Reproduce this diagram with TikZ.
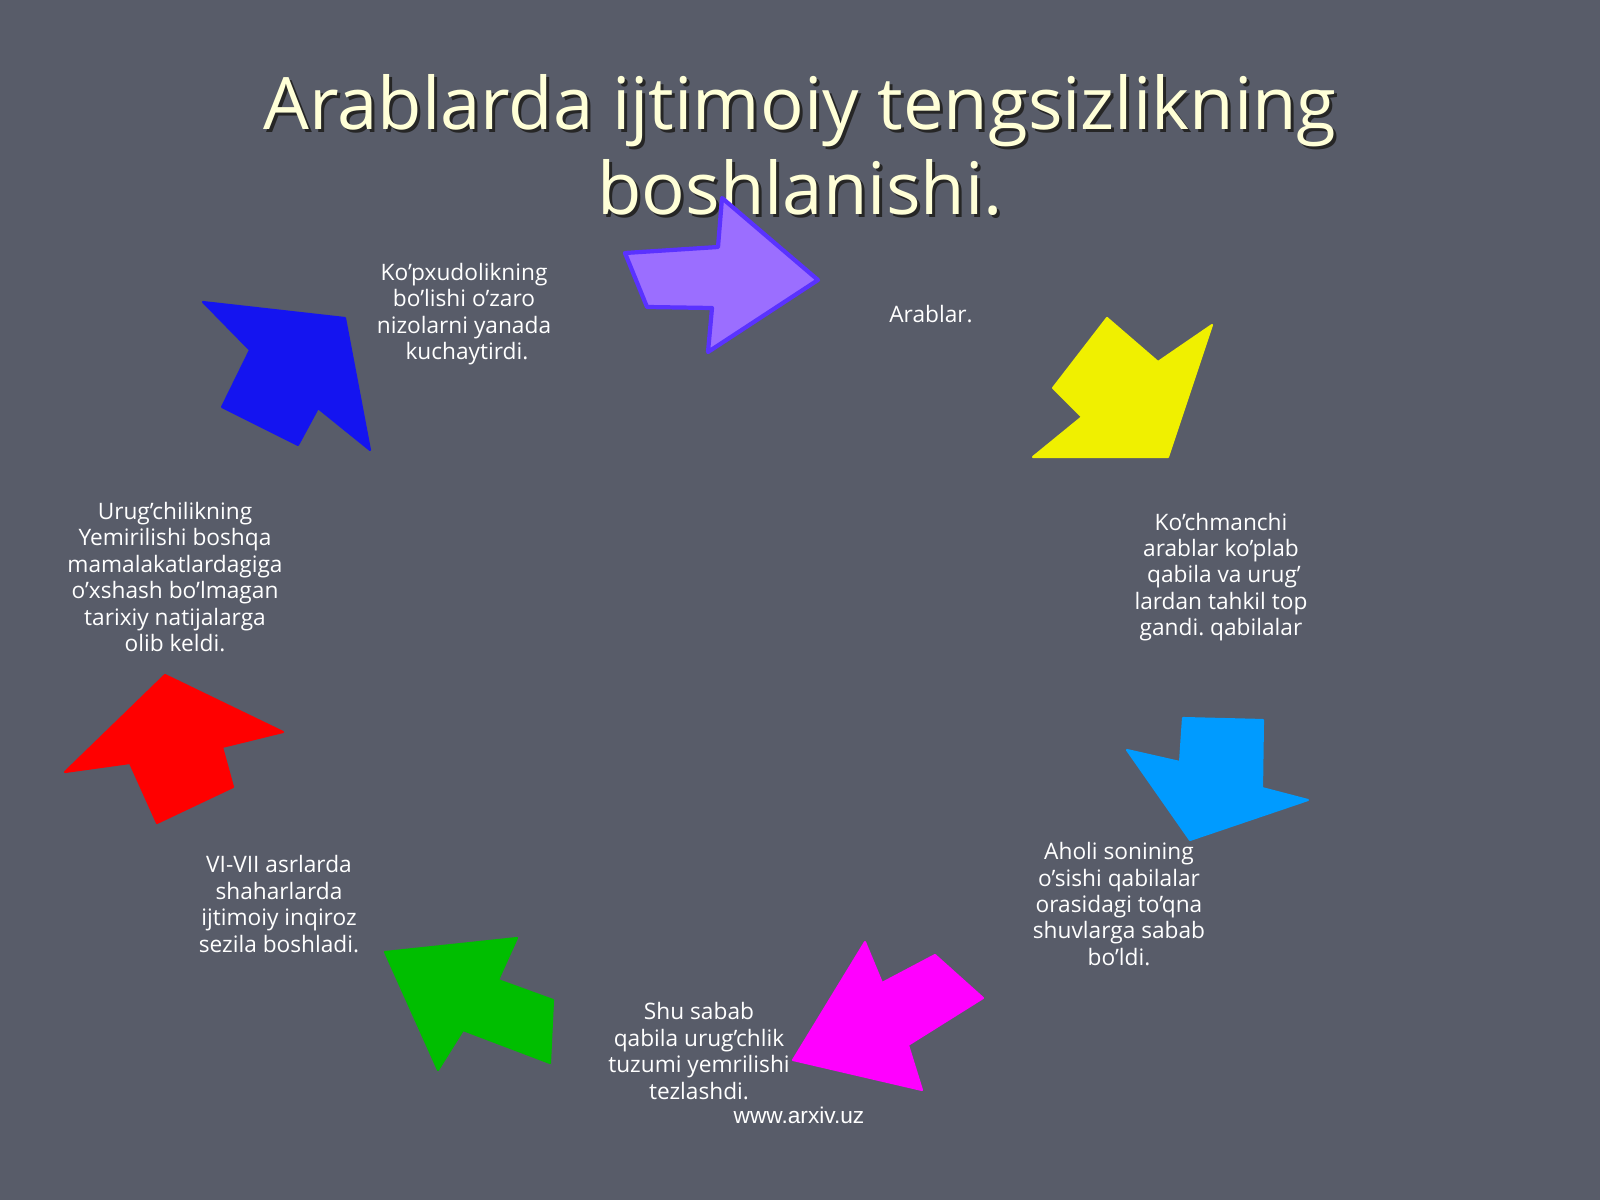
\documentclass[tikz,border=0pt]{standalone}
\usepackage{fontspec}
\setmainfont{Open Sans}
\newfontfamily\webfont{Liberation Sans}
\frenchspacing
\definecolor{slide}{RGB}{88,92,105}
\definecolor{cream}{RGB}{255,255,215}
\definecolor{lilac}{RGB}{155,110,255}
\definecolor{lilacedge}{RGB}{90,50,255}
\definecolor{lemon}{RGB}{240,240,0}
\definecolor{sky}{RGB}{0,155,255}
\definecolor{pink}{RGB}{255,0,255}
\definecolor{leaf}{RGB}{0,190,0}
\definecolor{fire}{RGB}{255,0,0}
\definecolor{navy}{RGB}{20,20,240}
\tikzset{
  heading/.style={align=center, font=\fontsize{20.6}{24.2}\selectfont},
  caption/.style={align=center, text=white, font=\fontsize{6.45}{7.5}\selectfont},
  shape/.style={fill=#1, draw=#1, line width=0.6pt, line join=round}
}

\begin{document}
\begin{tikzpicture}[x=0.01cm, y=-0.01cm]
\fill[slide] (0,0) rectangle (1600,1200);
\node[heading, text=black!85] (shadow) at (803,148) {Arablarda ijtimoiy tengsizlikning\\boshlanishi.};
\node[heading, text=cream] (title) at (800,145) {Arablarda ijtimoiy tengsizlikning\\boshlanishi.};

\node[caption] (kopx) at (464,314) {Ko’pxudolikning\\bo’lishi o’zaro\\nizolarni yanada\\\ kuchaytirdi.};
\node[caption] (arab) at (931,314) {Arablar.};
\node[caption] (koch) at (1221,577) {Ko’chmanchi\\arablar ko’plab\\\ qabila va urug’\\lardan tahkil top\\gandi. qabilalar};
\node[caption] (aholi) at (1119,904) {Aholi sonining\\o’sishi qabilalar\\orasidagi to’qna\\shuvlarga sabab\\bo’ldi.};
\node[caption] (shu) at (699,1051) {Shu sabab\\qabila urug’chlik\\tuzumi yemrilishi\\tezlashdi.};
\node[caption, font=\webfont\fontsize{6.45}{7.5}\selectfont] (web) at (799,1115) {www.arxiv.uz};
\node[caption] (vivii) at (279,904) {VI-VII asrlarda\\shaharlarda\\ijtimoiy inqiroz\\sezila boshladi.};
\node[caption] (urug) at (175,577) {Urug’chilikning\\Yemirilishi boshqa\\mamalakatlardagiga\\o’xshash bo’lmagan\\tarixiy natijalarga\\olib keldi.};

\filldraw[shape=lilac, draw=lilacedge, line width=1.2pt] (625,253) -- (718,247) -- (722,198) -- (818,280) -- (708,352) -- (712,308) -- (647,307) -- cycle;
\filldraw[shape=lemon] (1107,318) -- (1158,362) -- (1212,325) -- (1168,457) -- (1033,457) -- (1082,417) -- (1053,388) -- cycle;
\filldraw[shape=sky] (1183,718) -- (1263,720) -- (1262,788) -- (1308,800) -- (1190,840) -- (1127,750) -- (1180,762) -- cycle;
\filldraw[shape=pink] (793,1060) -- (865,942) -- (882,983) -- (935,955) -- (983,998) -- (908,1045) -- (922,1090) -- cycle;
\filldraw[shape=leaf] (385,952) -- (517,938) -- (498,980) -- (553,1000) -- (550,1063) -- (463,1030) -- (438,1070) -- cycle;
\filldraw[shape=fire] (165,675) -- (283,732) -- (222,747) -- (233,787) -- (157,823) -- (130,763) -- (65,772) -- cycle;
\filldraw[shape=navy] (203,302) -- (345,318) -- (370,450) -- (318,408) -- (298,445) -- (222,407) -- (250,350) -- cycle;
\end{tikzpicture}
\end{document}
